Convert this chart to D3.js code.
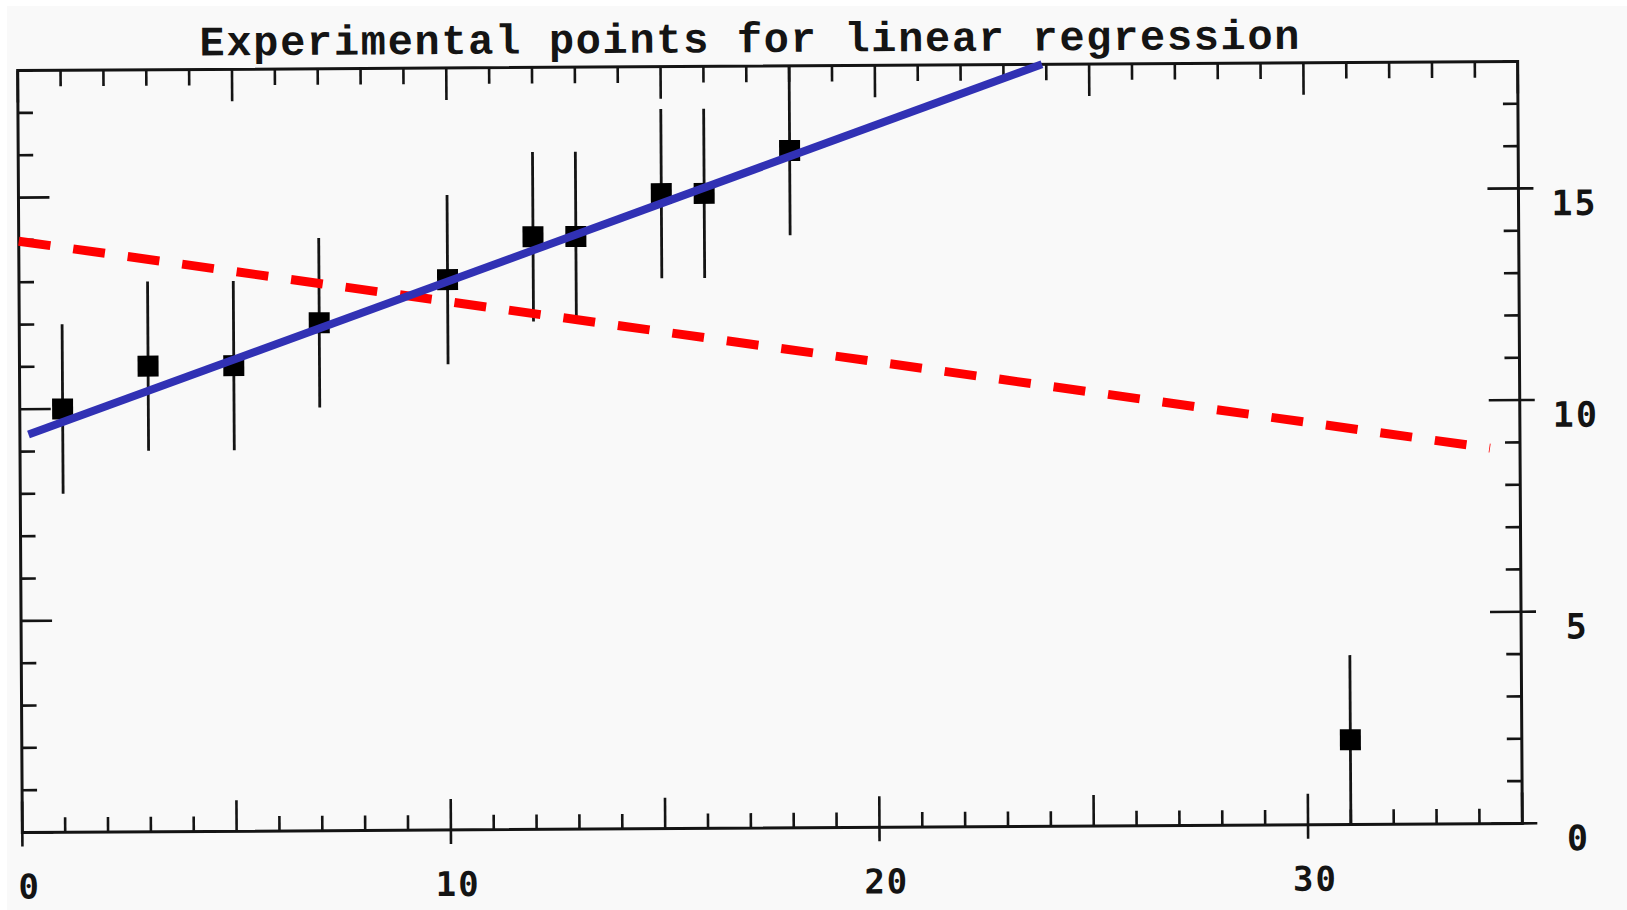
<!DOCTYPE html>
<html>
<head>
<meta charset="utf-8">
<script src="https://cdn.jsdelivr.net/npm/d3@7"></script>
<style>
  body { margin: 0; background: #fff; }
  svg { display: block; }
</style>
</head>
<body>
<div id="chart"></div>
<script>
var titleText = "Experimental points for linear regression";

// measured points with their error bars
var xValues = [1, 3, 5, 7, 10, 12, 13, 15, 16, 18, 31];
var yValues = [10, 11, 11, 12, 13, 14, 14, 15, 15, 16, 2];
var yErrors = [2, 2, 2, 2, 2, 2, 2, 2, 2, 2, 2];

// the two fitted lines, end points
var fitGood = [[0.2, 9.4], [23.9, 18]];
var fitAll = [[0, 13.97], [34.3, 8.87]];

var xTickLabels = [0, 10, 20, 30];
var yTickLabels = [0, 5, 10, 15];

var W = 1627, H = 910;
var margin = { top: 66, right: 107, bottom: 82, left: 20 },
  width = W - margin.left - margin.right,
  height = H - margin.top - margin.bottom;

var svg = d3
  .select("#chart")
  .append("svg")
  .attr("width", W)
  .attr("height", H);

// scanned paper background
svg
  .append("rect")
  .attr("x", 7)
  .attr("y", 6)
  .attr("width", W - 7)
  .attr("height", H - 6)
  .attr("fill", "#f9f9f9");

// the scan is a little crooked
var g = svg
  .append("g")
  .attr("transform", "rotate(-0.35,770,447) translate(" + margin.left + "," + margin.top + ")");

var x = d3.scaleLinear().domain([0, 35]).range([0, width]);
var y = d3.scaleLinear().domain([0, 18]).range([height, 0]);

var ink = "#141414";

g.append("rect")
  .attr("width", width)
  .attr("height", height)
  .attr("fill", "none")
  .attr("stroke", ink)
  .attr("stroke-width", 3);

function tickLen(v) {
  return v % 5 == 0 ? 31 : 15;
}

var xTicks = d3.range(0, 36),
  yTicks = d3.range(0, 19);

var ticks = g.append("g").attr("stroke", ink).attr("stroke-width", 2.6);

// bottom: up, and through the axis at the tens
ticks
  .selectAll(".tb")
  .data(xTicks)
  .enter()
  .append("line")
  .attr("x1", d => x(d))
  .attr("x2", d => x(d))
  .attr("y1", d => height + (d % 10 == 0 ? 14 : 0))
  .attr("y2", d => height - tickLen(d));

// top: down
ticks
  .selectAll(".tt")
  .data(xTicks)
  .enter()
  .append("line")
  .attr("x1", d => x(d))
  .attr("x2", d => x(d))
  .attr("y1", 0)
  .attr("y2", d => tickLen(d) + 1);

// left: inward
ticks
  .selectAll(".tl")
  .data(yTicks)
  .enter()
  .append("line")
  .attr("x1", 0)
  .attr("x2", d => tickLen(d))
  .attr("y1", d => y(d))
  .attr("y2", d => y(d));

// right: inward, crossing at the fives
ticks
  .selectAll(".tr")
  .data(yTicks)
  .enter()
  .append("line")
  .attr("x1", d => width + (d % 5 == 0 ? 15 : 0))
  .attr("x2", d => width - tickLen(d))
  .attr("y1", d => y(d))
  .attr("y2", d => y(d));

// tick labels
g.selectAll(".xl")
  .data(xTickLabels)
  .enter()
  .append("text")
  .attr("x", d => x(d) + 7)
  .attr("y", height + 66)
  .attr("text-anchor", "middle")
  .attr("font-family", "DejaVu Sans Mono")
  .attr("font-weight", "bold")
  .attr("font-size", 34)
  .attr("letter-spacing", 2)
  .attr("fill", ink)
  .text(d => d);

g.selectAll(".yl")
  .data(yTickLabels)
  .enter()
  .append("text")
  .attr("x", width + 56)
  .attr("y", d => y(d) + 27)
  .attr("text-anchor", "middle")
  .attr("font-family", "DejaVu Sans Mono")
  .attr("font-weight", "bold")
  .attr("font-size", 35)
  .attr("letter-spacing", 2)
  .attr("fill", ink)
  .text(d => d);

// title
g.append("text")
  .attr("x", width / 2 - 18)
  .attr("y", -14)
  .attr("text-anchor", "middle")
  .attr("font-family", "Liberation Mono")
  .attr("font-weight", "bold")
  .attr("font-size", 42)
  .attr("textLength", 1100)
  .attr("lengthAdjust", "spacing")
  .attr("fill", ink)
  .text(titleText);

var points = xValues.map(function(v, i) {
  return { x: v, y: yValues[i], e: yErrors[i] };
});

// error bars
g.append("g")
  .selectAll("line")
  .data(points)
  .enter()
  .append("line")
  .attr("x1", d => x(d.x))
  .attr("x2", d => x(d.x))
  .attr("y1", d => y(d.y - d.e))
  .attr("y2", d => y(d.y + d.e))
  .attr("stroke", ink)
  .attr("stroke-width", 2.8);

var size = 21;
g.append("g")
  .selectAll("rect")
  .data(points)
  .enter()
  .append("rect")
  .attr("x", d => x(d.x) - size / 2)
  .attr("y", d => y(d.y) - size / 2)
  .attr("width", size)
  .attr("height", size)
  .attr("fill", "#000");

var line = d3
  .line()
  .x(d => x(d[0]))
  .y(d => y(d[1]));

g.append("path")
  .datum(fitAll)
  .attr("d", line)
  .attr("fill", "none")
  .attr("stroke", "#ff0000")
  .attr("stroke-width", 9)
  .attr("stroke-dasharray", "32,23");

g.append("path")
  .datum(fitGood)
  .attr("d", line)
  .attr("fill", "none")
  .attr("stroke", "#3131b4")
  .attr("stroke-width", 8);
</script>
</body>
</html>
